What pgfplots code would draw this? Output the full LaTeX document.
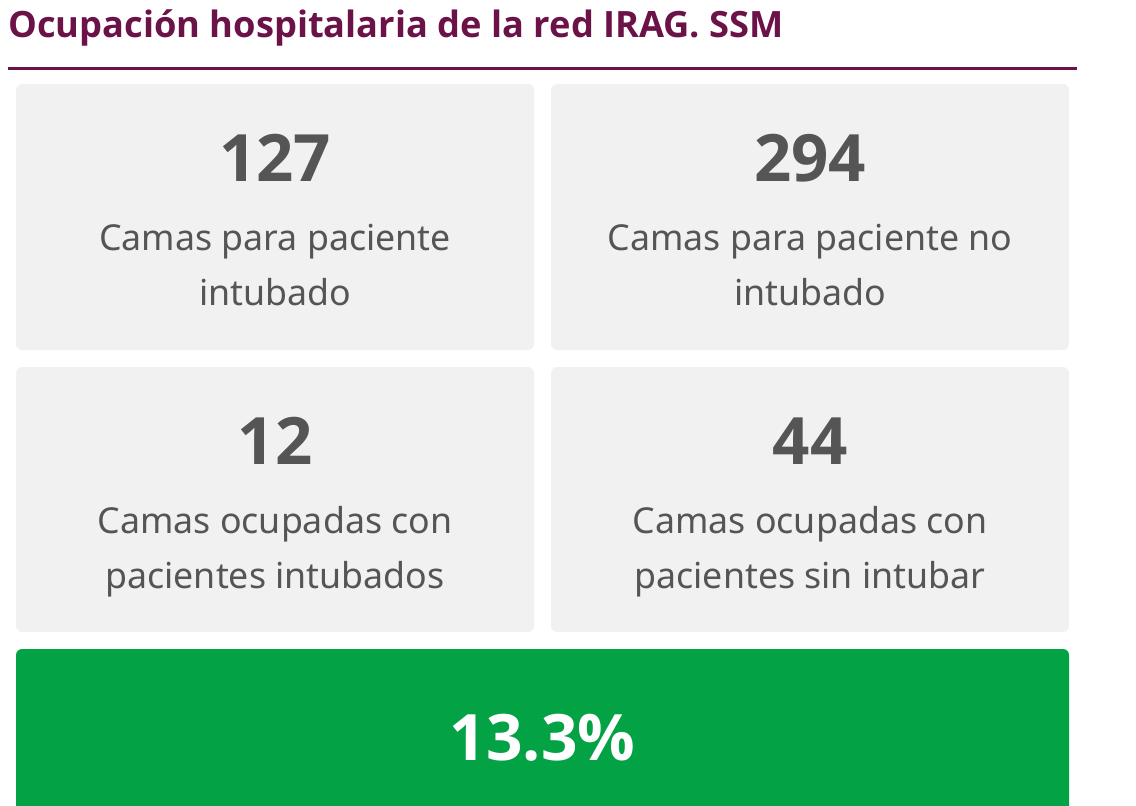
\documentclass[border=0pt]{standalone}
\usepackage{pgfplots}
\pgfplotsset{compat=1.18}
\usepackage{fontspec}
\setmainfont{Noto Sans}
\newfontfamily\titlefont{Open Sans}
\newfontfamily\numfont{Open Sans}
\definecolor{tit}{HTML}{6B1248}
\definecolor{card}{HTML}{F1F1F1}
\definecolor{txt}{HTML}{555555}
\definecolor{grn}{HTML}{02A245}
\begin{document}
\begin{tikzpicture}
\begin{axis}[width=852pt,height=604.5pt,scale only axis,
  xmin=0,xmax=1136,ymin=0,ymax=806,y dir=reverse,hide axis,clip=true]
\path (axis cs:0,0) rectangle (axis cs:1136,806);
% cards
\fill[card,rounded corners=4.5pt] (axis cs:16,84) rectangle (axis cs:534,350);
\fill[card,rounded corners=4.5pt] (axis cs:551,84) rectangle (axis cs:1069,350);
\fill[card,rounded corners=4.5pt] (axis cs:16,367) rectangle (axis cs:534,632);
\fill[card,rounded corners=4.5pt] (axis cs:551,367) rectangle (axis cs:1069,632);
\fill[grn] (axis cs:16,806) [rounded corners=4.5pt] -- (axis cs:16,649) -- (axis cs:1069,649) [sharp corners] -- (axis cs:1069,806) -- cycle;
% title and rule
\node[anchor=base west,inner sep=0pt,text=tit,font=\titlefont\bfseries\fontsize{27.2}{30}\selectfont] at (axis cs:8,38) {Ocupación hospitalaria de la red IRAG. SSM};
\draw[tit,line width=2.25pt] (axis cs:8,68.5) -- (axis cs:1077,68.5);
% values
\addplot[draw=none,no markers,nodes near coords,point meta=explicit symbolic,
  nodes near coords style={anchor=center,text=txt,font=\numfont\bfseries\fontsize{49}{49}\selectfont}]
  coordinates {(275,158) [127] (810,158) [294] (275,441) [12] (810,441) [44]};
\addplot[draw=none,no markers,nodes near coords,point meta=explicit symbolic,
  nodes near coords style={anchor=center,text=white,font=\numfont\bfseries\fontsize{48}{48}\selectfont}]
  coordinates {(542.5,738) [13.3\%]};
% labels
\node[align=center,text=txt,font=\fontsize{26.8}{41.25}\selectfont] at (axis cs:275,265.5) {Camas para paciente\\intubado};
\node[align=center,text=txt,font=\fontsize{26.8}{41.25}\selectfont] at (axis cs:810,265.5) {Camas para paciente no\\intubado};
\node[align=center,text=txt,font=\fontsize{26.8}{41.25}\selectfont] at (axis cs:275,552) {Camas ocupadas con\\pacientes intubados};
\node[align=center,text=txt,font=\fontsize{26.8}{41.25}\selectfont] at (axis cs:810,552) {Camas ocupadas con\\pacientes sin intubar};
\end{axis}
\end{tikzpicture}
\end{document}
